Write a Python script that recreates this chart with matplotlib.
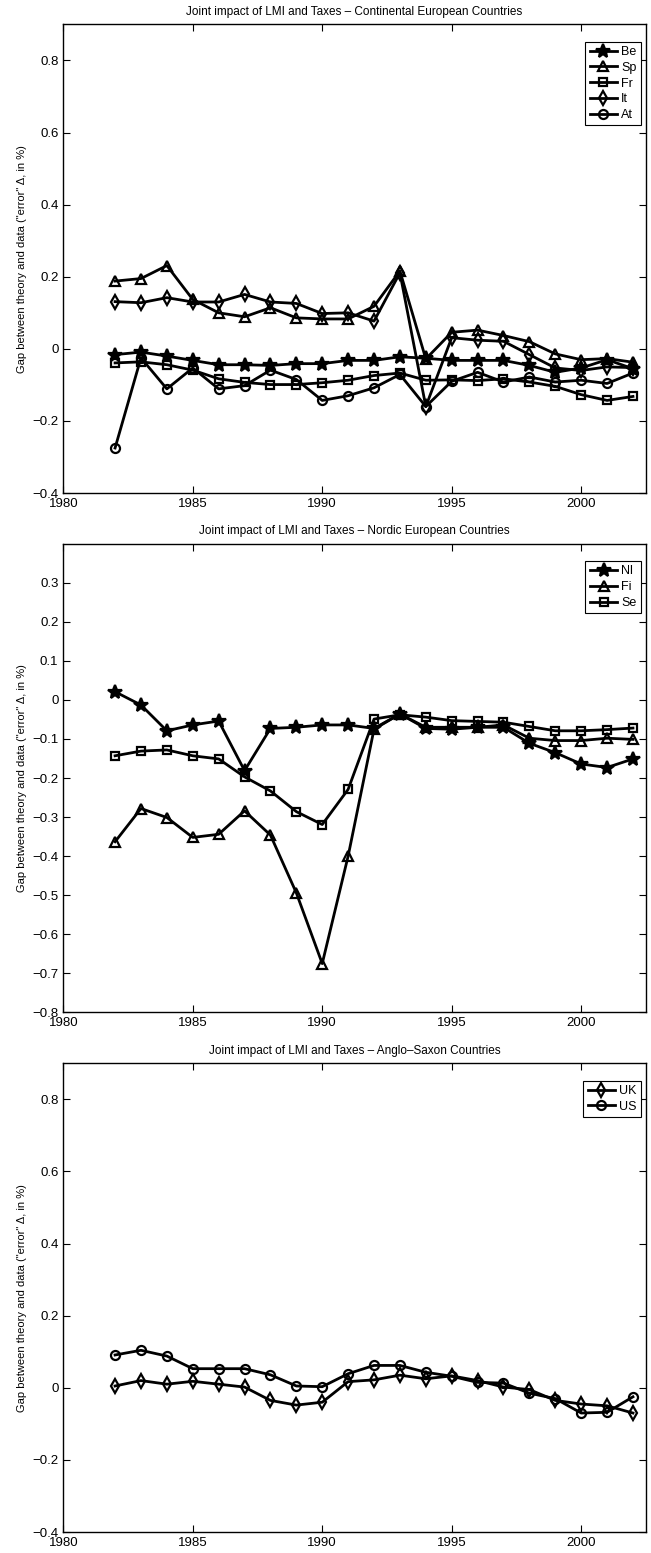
import numpy as np
import matplotlib.pyplot as plt
from matplotlib.ticker import FuncFormatter

plt.rcParams['font.family'] = ['Liberation Sans', 'DejaVu Sans']

years = list(range(1982, 2003))

# Continental European countries
be = [-0.016, -0.009, -0.020, -0.032, -0.044, -0.044, -0.046, -0.041, -0.041, -0.032, -0.032,
      -0.022, -0.026, -0.032, -0.032, -0.032, -0.046, -0.065, -0.053, -0.030, -0.055]
sp = [0.188, 0.195, 0.231, 0.137, 0.100, 0.089, 0.114, 0.086, 0.083, 0.083, 0.118,
      0.216, -0.028, 0.046, 0.052, 0.037, 0.020, -0.014, -0.030, -0.027, -0.037]
fr = [-0.039, -0.036, -0.044, -0.059, -0.083, -0.093, -0.099, -0.099, -0.094, -0.087, -0.074,
      -0.067, -0.087, -0.086, -0.088, -0.083, -0.092, -0.104, -0.127, -0.143, -0.132]
it = [0.131, 0.128, 0.142, 0.130, 0.130, 0.151, 0.130, 0.126, 0.098, 0.100, 0.077,
      0.211, -0.160, 0.031, 0.024, 0.021, -0.016, -0.053, -0.060, -0.050, -0.052]
at = [-0.275, -0.025, -0.111, -0.053, -0.111, -0.102, -0.059, -0.085, -0.143, -0.130, -0.108,
      -0.071, -0.160, -0.090, -0.065, -0.092, -0.078, -0.092, -0.087, -0.096, -0.067]

# Nordic European countries
nl = [0.021, -0.013, -0.079, -0.064, -0.054, -0.181, -0.073, -0.070, -0.064, -0.064, -0.073,
      -0.036, -0.073, -0.075, -0.070, -0.070, -0.111, -0.135, -0.164, -0.173, -0.151]
fi = [-0.363, -0.278, -0.301, -0.352, -0.344, -0.284, -0.346, -0.494, -0.675, -0.400, -0.075,
      -0.036, -0.070, -0.070, -0.070, -0.064, -0.098, -0.104, -0.104, -0.098, -0.101]
se = [-0.143, -0.131, -0.128, -0.143, -0.151, -0.197, -0.233, -0.286, -0.319, -0.229, -0.049,
      -0.038, -0.044, -0.053, -0.055, -0.057, -0.068, -0.079, -0.079, -0.076, -0.072]

# Anglo-Saxon countries
uk = [0.005, 0.020, 0.010, 0.018, 0.010, 0.002, -0.035, -0.048, -0.040, 0.017, 0.022,
      0.035, 0.025, 0.033, 0.020, 0.002, -0.005, -0.035, -0.045, -0.050, -0.070]
us = [0.091, 0.104, 0.088, 0.053, 0.053, 0.053, 0.036, 0.005, 0.003, 0.039, 0.062,
      0.062, 0.043, 0.032, 0.015, 0.013, -0.015, -0.030, -0.070, -0.068, -0.025]

styles = {'p': dict(marker='*', markersize=10, markerfacecolor='k'),
          '^': dict(marker='^', markersize=7, markerfacecolor='none'),
          's': dict(marker='s', markersize=5.5, markerfacecolor='none'),
          'd': dict(marker='d', markersize=7, markerfacecolor='none'),
          'o': dict(marker='o', markersize=6.5, markerfacecolor='none')}

panels = [
    ("Joint impact of LMI and Taxes \u2013 Continental European Countries",
     [(be, 'Be', 'p'), (sp, 'Sp', '^'), (fr, 'Fr', 's'), (it, 'It', 'd'), (at, 'At', 'o')],
     (-0.4, 0.9), np.arange(-0.4, 0.81, 0.2), 0.6825),
    ("Joint impact of LMI and Taxes \u2013 Nordic European Countries",
     [(nl, 'Nl', 'p'), (fi, 'Fi', '^'), (se, 'Se', 's')],
     (-0.8, 0.4), np.arange(-0.8, 0.31, 0.1), 0.3481),
    ("Joint impact of LMI and Taxes \u2013 Anglo\u2013Saxon Countries",
     [(uk, 'UK', 'd'), (us, 'US', 'o')],
     (-0.4, 0.9), np.arange(-0.4, 0.81, 0.2), 0.01352),
]


def fmt(v, pos):
    v = round(v, 2)
    if v == 0:
        return '0'
    return ('%g' % v).replace('-', '\u2212')


fig = plt.figure(figsize=(6.51, 15.53), dpi=100)

for title, series, ylim, yticks, bottom in panels:
    ax = fig.add_axes([0.0972, bottom, 0.895, 0.3018])
    for vals, lab, mk in series:
        ax.plot(years, vals, color='k', linewidth=2, markeredgecolor='k',
                markeredgewidth=1.6, label=lab, **styles[mk])
    ax.set_xlim(1980, 2002.5)
    ax.set_ylim(*ylim)
    ax.set_xticks([1980, 1985, 1990, 1995, 2000])
    ax.set_yticks(np.round(yticks, 2))
    ax.yaxis.set_major_formatter(FuncFormatter(fmt))
    ax.tick_params(direction='in', top=True, right=True, labelsize=9.5, length=5, width=0.8)
    for sp_ in ax.spines.values():
        sp_.set_linewidth(1)
    ax.set_title(title, fontsize=8.5, pad=7)
    ax.set_ylabel('Gap between theory and data ("error" \u0394, in %)', fontsize=8, labelpad=4)
    leg = ax.legend(loc='upper right', bbox_to_anchor=(0.991, 0.963), borderaxespad=0,
                    fontsize=9, fancybox=False, edgecolor='k', framealpha=1,
                    handlelength=2.2, labelspacing=0.3, borderpad=0.35, handletextpad=0.3)
    leg.get_frame().set_linewidth(0.8)

fig.savefig('out.png', dpi=100)
